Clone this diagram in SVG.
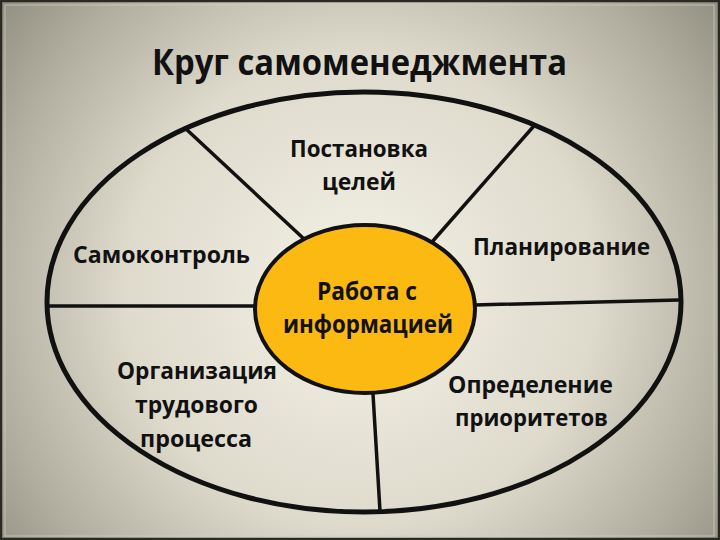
<svg xmlns="http://www.w3.org/2000/svg" width="720" height="540" viewBox="0 0 720 540">
  <defs>
    <radialGradient id="bg" gradientUnits="userSpaceOnUse" cx="360" cy="290" r="470">
      <stop offset="0" stop-color="#f4f1e6"/>
      <stop offset="0.5" stop-color="#dedbcd"/>
      <stop offset="0.8" stop-color="#b1ae9f"/>
      <stop offset="1" stop-color="#8e8c7e"/>
    </radialGradient>
    <style>
      .lbl { font-family: "Open Sans", "Noto Sans", "DejaVu Sans", sans-serif; font-weight: 700; font-size: 24px; fill: #111111; text-anchor: middle; }
      .big { font-size: 25px; }
      .title { font-family: "Open Sans", "Noto Sans", "DejaVu Sans", sans-serif; font-weight: 700; font-size: 35px; fill: #111111; text-anchor: middle; }
      .div { stroke: #111111; stroke-width: 3.5; stroke-linecap: round; fill: none; }
    </style>
  </defs>

  <rect id="background" x="0" y="0" width="720" height="540" fill="url(#bg)"/>
  <rect x="5" y="5" width="709" height="531" fill="none" stroke="#d2d0c4" stroke-width="1" opacity="0.7"/>
  <rect x="1" y="1" width="718" height="538" fill="none" stroke="#2b2a22" stroke-width="2.5"/>

  <text id="title" class="title" x="359.5" y="75" textLength="415" lengthAdjust="spacingAndGlyphs">Круг самоменеджмента</text>

  <g id="outer-circle">
    <ellipse cx="364" cy="302" rx="317" ry="210" fill="none" stroke="#111111" stroke-width="5"/>
  </g>

  <g id="connectors">
    <line class="div" x1="185" y1="128" x2="303" y2="238"/>
    <line class="div" x1="533" y1="127" x2="432" y2="242"/>
    <line class="div" x1="48" y1="306" x2="256" y2="306"/>
    <line class="div" x1="474" y1="305" x2="679" y2="300"/>
    <line class="div" x1="373" y1="394" x2="380" y2="511"/>
  </g>

  <g id="center-node">
    <ellipse cx="365" cy="309" rx="110" ry="84" fill="#fbb912" stroke="#111111" stroke-width="4"/>
    <text class="lbl big" x="367" y="300" textLength="100" lengthAdjust="spacingAndGlyphs">Работа с</text>
    <text class="lbl big" x="368" y="333" textLength="170" lengthAdjust="spacingAndGlyphs">информацией</text>
  </g>

  <g id="node-goals">
    <text class="lbl" x="359" y="157" textLength="138" lengthAdjust="spacingAndGlyphs">Постановка</text>
    <text class="lbl" x="359" y="190" textLength="74" lengthAdjust="spacingAndGlyphs">целей</text>
  </g>

  <g id="node-planning">
    <text class="lbl" x="561.5" y="255" textLength="177" lengthAdjust="spacingAndGlyphs">Планирование</text>
  </g>

  <g id="node-priorities">
    <text class="lbl" x="530.5" y="393" textLength="165" lengthAdjust="spacingAndGlyphs">Определение</text>
    <text class="lbl" x="531.5" y="426" textLength="153" lengthAdjust="spacingAndGlyphs">приоритетов</text>
  </g>

  <g id="node-organization">
    <text class="lbl" x="197" y="379" textLength="160" lengthAdjust="spacingAndGlyphs">Организация</text>
    <text class="lbl" x="196.5" y="413" textLength="123" lengthAdjust="spacingAndGlyphs">трудового</text>
    <text class="lbl" x="196" y="447" textLength="112" lengthAdjust="spacingAndGlyphs">процесса</text>
  </g>

  <g id="node-selfcontrol">
    <text class="lbl" x="161.5" y="263" textLength="177" lengthAdjust="spacingAndGlyphs">Самоконтроль</text>
  </g>
</svg>
